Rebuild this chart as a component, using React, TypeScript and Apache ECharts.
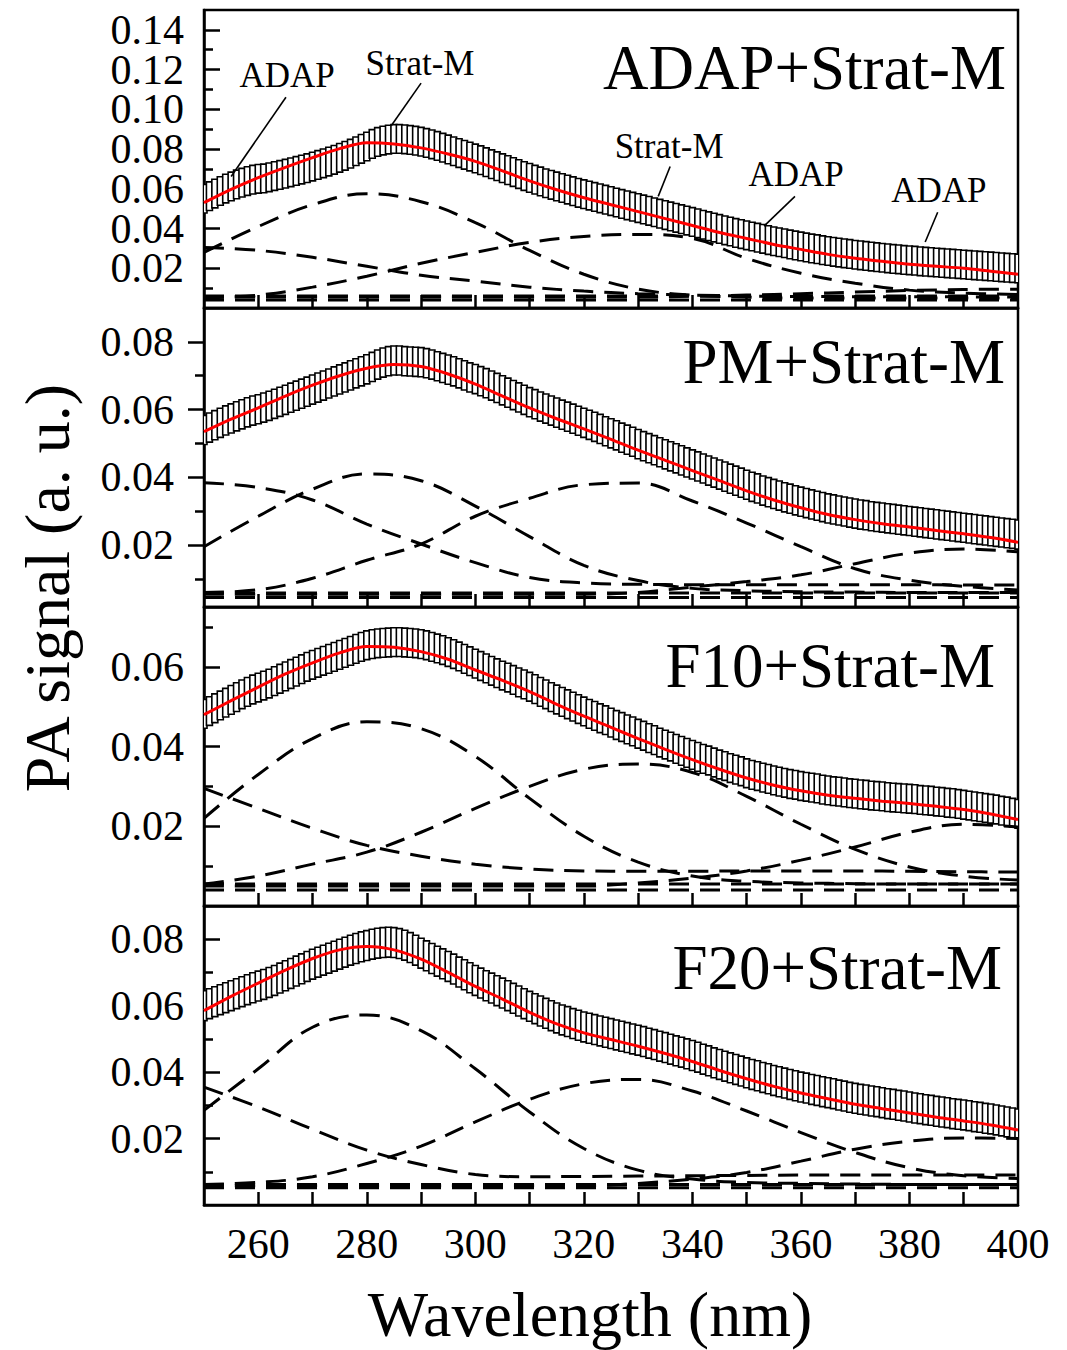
import React, { useEffect, useRef } from 'react';
import * as echarts from 'echarts';

const FONT = "'Liberation Serif', 'Times New Roman', serif";

// x sampling (nm)
const dataStart = 250;
const dataStep = 1;
const fitStep = 5;
const compStep = 10;
const xMin = 250;
const xMax = 400;
const xTickValues = [260, 270, 280, 290, 300, 310, 320, 330, 340, 350, 360, 370, 380, 390];
const xLabelValues = [260, 280, 300, 320, 340, 360, 380, 400];

const panelTitles = ['ADAP+Strat-M', 'PM+Strat-M', 'F10+Strat-M', 'F20+Strat-M'];
const yMin = [0, 0.0017, 0, 0];
const yMax = [0.15, 0.09, 0.075, 0.09];
const yMajor = [
  [0.02, 0.04, 0.06, 0.08, 0.1, 0.12, 0.14],
  [0.02, 0.04, 0.06, 0.08],
  [0.02, 0.04, 0.06],
  [0.02, 0.04, 0.06, 0.08],
];
const yMinor = [
  [0.01, 0.03, 0.05, 0.07, 0.09, 0.11, 0.13],
  [0.01, 0.03, 0.05, 0.07],
  [0.01, 0.03, 0.05, 0.07],
  [0.01, 0.03, 0.05, 0.07],
];
const errHalf = [0.0072, 0.0043, 0.0036, 0.0045];

// measured data (box centres), 250..400 nm every 1 nm
const adapData = [
  0.0550, 0.0563, 0.0576, 0.0589, 0.0601, 0.0612, 0.0622, 0.0631, 0.0639, 0.0646,
  0.0650, 0.0652, 0.0658, 0.0664, 0.0670, 0.0676, 0.0683, 0.0690, 0.0697, 0.0704,
  0.0712, 0.0720, 0.0728, 0.0737, 0.0746, 0.0756, 0.0766, 0.0777, 0.0789, 0.0801,
  0.0813, 0.0826, 0.0836, 0.0843, 0.0848, 0.0851, 0.0851, 0.0849, 0.0846, 0.0842,
  0.0837, 0.0831, 0.0824, 0.0816, 0.0807, 0.0798, 0.0789, 0.0780, 0.0771, 0.0762,
  0.0753, 0.0744, 0.0734, 0.0724, 0.0714, 0.0704, 0.0694, 0.0684, 0.0674, 0.0664,
  0.0655, 0.0646, 0.0637, 0.0628, 0.0620, 0.0612, 0.0604, 0.0596, 0.0588, 0.0580,
  0.0573, 0.0566, 0.0559, 0.0552, 0.0545, 0.0538, 0.0531, 0.0524, 0.0517, 0.0510,
  0.0503, 0.0496, 0.0489, 0.0482, 0.0475, 0.0468, 0.0461, 0.0454, 0.0447, 0.0440,
  0.0433, 0.0426, 0.0419, 0.0412, 0.0405, 0.0398, 0.0391, 0.0385, 0.0378, 0.0372,
  0.0366, 0.0360, 0.0354, 0.0348, 0.0342, 0.0336, 0.0331, 0.0326, 0.0320, 0.0315,
  0.0310, 0.0305, 0.0300, 0.0296, 0.0291, 0.0287, 0.0283, 0.0279, 0.0275, 0.0272,
  0.0268, 0.0265, 0.0262, 0.0259, 0.0256, 0.0253, 0.0250, 0.0247, 0.0245, 0.0242,
  0.0240, 0.0238, 0.0235, 0.0233, 0.0231, 0.0229, 0.0227, 0.0225, 0.0223, 0.0221,
  0.0219, 0.0217, 0.0215, 0.0213, 0.0211, 0.0209, 0.0207, 0.0205, 0.0203, 0.0201,
  0.0199,
];
const pmData = [
  0.0540, 0.0547, 0.0554, 0.0561, 0.0568, 0.0574, 0.0580, 0.0586, 0.0592, 0.0597,
  0.0601, 0.0606, 0.0611, 0.0617, 0.0623, 0.0629, 0.0635, 0.0641, 0.0647, 0.0653,
  0.0659, 0.0665, 0.0671, 0.0677, 0.0683, 0.0689, 0.0695, 0.0701, 0.0707, 0.0713,
  0.0719, 0.0726, 0.0733, 0.0739, 0.0743, 0.0745, 0.0745, 0.0743, 0.0742, 0.0741,
  0.0740, 0.0737, 0.0733, 0.0728, 0.0723, 0.0718, 0.0713, 0.0707, 0.0701, 0.0695,
  0.0690, 0.0684, 0.0678, 0.0671, 0.0664, 0.0657, 0.0650, 0.0643, 0.0636, 0.0629,
  0.0622, 0.0616, 0.0609, 0.0603, 0.0597, 0.0591, 0.0585, 0.0579, 0.0573, 0.0567,
  0.0561, 0.0555, 0.0549, 0.0543, 0.0536, 0.0530, 0.0524, 0.0517, 0.0511, 0.0505,
  0.0498, 0.0492, 0.0486, 0.0480, 0.0474, 0.0468, 0.0462, 0.0456, 0.0450, 0.0444,
  0.0438, 0.0432, 0.0426, 0.0420, 0.0414, 0.0408, 0.0402, 0.0396, 0.0390, 0.0384,
  0.0378, 0.0372, 0.0367, 0.0361, 0.0356, 0.0351, 0.0346, 0.0341, 0.0337, 0.0332,
  0.0328, 0.0324, 0.0320, 0.0316, 0.0312, 0.0308, 0.0305, 0.0302, 0.0299, 0.0296,
  0.0293, 0.0290, 0.0288, 0.0285, 0.0283, 0.0281, 0.0279, 0.0277, 0.0275, 0.0273,
  0.0271, 0.0269, 0.0267, 0.0265, 0.0263, 0.0261, 0.0259, 0.0257, 0.0255, 0.0253,
  0.0251, 0.0249, 0.0247, 0.0245, 0.0243, 0.0241, 0.0239, 0.0237, 0.0235, 0.0233,
  0.0231,
];
const f10Data = [
  0.0482, 0.0489, 0.0496, 0.0503, 0.0510, 0.0517, 0.0524, 0.0531, 0.0537, 0.0543,
  0.0548, 0.0553, 0.0558, 0.0564, 0.0570, 0.0576, 0.0582, 0.0588, 0.0594, 0.0600,
  0.0605, 0.0610, 0.0615, 0.0620, 0.0625, 0.0630, 0.0635, 0.0640, 0.0645, 0.0650,
  0.0654, 0.0657, 0.0659, 0.0660, 0.0661, 0.0662, 0.0662, 0.0661, 0.0660, 0.0659,
  0.0657, 0.0654, 0.0650, 0.0646, 0.0642, 0.0637, 0.0632, 0.0626, 0.0620, 0.0614,
  0.0608, 0.0602, 0.0596, 0.0590, 0.0584, 0.0578, 0.0573, 0.0567, 0.0561, 0.0556,
  0.0550, 0.0544, 0.0537, 0.0531, 0.0524, 0.0518, 0.0512, 0.0506, 0.0500, 0.0494,
  0.0488, 0.0482, 0.0477, 0.0471, 0.0466, 0.0460, 0.0454, 0.0449, 0.0443, 0.0438,
  0.0432, 0.0427, 0.0421, 0.0416, 0.0410, 0.0405, 0.0400, 0.0394, 0.0389, 0.0384,
  0.0379, 0.0374, 0.0369, 0.0365, 0.0360, 0.0355, 0.0351, 0.0346, 0.0342, 0.0338,
  0.0333, 0.0329, 0.0326, 0.0322, 0.0319, 0.0315, 0.0312, 0.0309, 0.0306, 0.0304,
  0.0301, 0.0299, 0.0297, 0.0295, 0.0292, 0.0290, 0.0288, 0.0287, 0.0285, 0.0283,
  0.0282, 0.0280, 0.0279, 0.0277, 0.0276, 0.0275, 0.0273, 0.0272, 0.0271, 0.0270,
  0.0269, 0.0268, 0.0266, 0.0265, 0.0264, 0.0262, 0.0261, 0.0259, 0.0258, 0.0256,
  0.0254, 0.0252, 0.0250, 0.0248, 0.0246, 0.0244, 0.0242, 0.0239, 0.0237, 0.0234,
  0.0231,
];
const f20Data = [
  0.0600, 0.0606, 0.0612, 0.0618, 0.0624, 0.0630, 0.0636, 0.0642, 0.0648, 0.0654,
  0.0659, 0.0664, 0.0670, 0.0676, 0.0683, 0.0690, 0.0697, 0.0704, 0.0711, 0.0718,
  0.0725, 0.0731, 0.0737, 0.0743, 0.0749, 0.0755, 0.0761, 0.0767, 0.0772, 0.0777,
  0.0781, 0.0785, 0.0788, 0.0790, 0.0791, 0.0790, 0.0787, 0.0782, 0.0775, 0.0767,
  0.0758, 0.0750, 0.0742, 0.0734, 0.0726, 0.0718, 0.0710, 0.0701, 0.0693, 0.0684,
  0.0676, 0.0668, 0.0660, 0.0653, 0.0645, 0.0638, 0.0630, 0.0622, 0.0614, 0.0606,
  0.0598, 0.0591, 0.0584, 0.0577, 0.0570, 0.0563, 0.0557, 0.0552, 0.0546, 0.0541,
  0.0536, 0.0532, 0.0528, 0.0524, 0.0520, 0.0516, 0.0512, 0.0508, 0.0504, 0.0500,
  0.0496, 0.0492, 0.0487, 0.0483, 0.0478, 0.0474, 0.0469, 0.0464, 0.0460, 0.0455,
  0.0450, 0.0445, 0.0439, 0.0434, 0.0428, 0.0423, 0.0418, 0.0413, 0.0408, 0.0403,
  0.0398, 0.0393, 0.0389, 0.0384, 0.0380, 0.0375, 0.0371, 0.0367, 0.0363, 0.0359,
  0.0355, 0.0352, 0.0348, 0.0345, 0.0341, 0.0338, 0.0335, 0.0331, 0.0328, 0.0324,
  0.0321, 0.0318, 0.0316, 0.0313, 0.0311, 0.0308, 0.0305, 0.0303, 0.0300, 0.0298,
  0.0295, 0.0292, 0.0290, 0.0287, 0.0285, 0.0282, 0.0280, 0.0278, 0.0275, 0.0273,
  0.0271, 0.0269, 0.0266, 0.0264, 0.0261, 0.0259, 0.0256, 0.0253, 0.0250, 0.0247,
  0.0244,
];

// fitted curves (red), 250..400 every 5 nm
const adapFit = [0.053, 0.0597, 0.0656, 0.0708, 0.0757, 0.0802, 0.0832, 0.0826, 0.0806, 0.0775, 0.0738, 0.069, 0.064, 0.0595, 0.0555, 0.052, 0.0485, 0.045, 0.0415, 0.038, 0.035, 0.032, 0.0295, 0.027, 0.025, 0.0235, 0.022, 0.021, 0.020, 0.0185, 0.017];
const pmFit = [0.0535, 0.0572, 0.0605, 0.064, 0.0672, 0.070, 0.0722, 0.0733, 0.0727, 0.0705, 0.0675, 0.064, 0.0605, 0.0573, 0.0543, 0.0512, 0.048, 0.045, 0.042, 0.039, 0.036, 0.0333, 0.031, 0.029, 0.0275, 0.0263, 0.0253, 0.0243, 0.0233, 0.0222, 0.0208];
const f10Fit = [0.048, 0.0515, 0.0549, 0.0582, 0.061, 0.0635, 0.0651, 0.0649, 0.0638, 0.0619, 0.0592, 0.0566, 0.0538, 0.0506, 0.0476, 0.0448, 0.042, 0.0393, 0.0367, 0.0343, 0.0321, 0.0303, 0.0289, 0.0278, 0.027, 0.0263, 0.0257, 0.025, 0.0242, 0.0231, 0.0217];
const f20Fit = [0.0585, 0.0628, 0.0668, 0.0707, 0.0742, 0.0768, 0.0778, 0.0768, 0.074, 0.070, 0.0658, 0.062, 0.058, 0.0545, 0.0518, 0.0498, 0.0478, 0.0456, 0.0432, 0.0405, 0.038, 0.0357, 0.0337, 0.032, 0.0303, 0.029, 0.0277, 0.0264, 0.0253, 0.0241, 0.0226];

// fitted components (dashed), 250..400 every 10 nm
const adapComp1 = [0.028, 0.041, 0.052, 0.0575, 0.0535, 0.043, 0.029, 0.017, 0.0095, 0.0065, 0.0055, 0.005, 0.005, 0.005, 0.005, 0.005];
const adapComp2 = [0.0305, 0.029, 0.0255, 0.021, 0.0165, 0.0135, 0.0105, 0.0085, 0.0072, 0.0065, 0.006, 0.0058, 0.0057, 0.0056, 0.0056, 0.0055];
const adapComp3 = [0.005, 0.0065, 0.0105, 0.016, 0.0225, 0.028, 0.033, 0.036, 0.037, 0.035, 0.025, 0.0175, 0.0125, 0.009, 0.0075, 0.0068];
const adapComp4 = [0.0055, 0.0055, 0.0055, 0.0055, 0.0055, 0.0055, 0.0055, 0.0055, 0.0055, 0.006, 0.0065, 0.0072, 0.008, 0.0088, 0.0093, 0.0095];
const adapBaselines = [0.004, 0.006];

const pmComp1 = [0.0195, 0.0285, 0.0365, 0.041, 0.039, 0.0315, 0.0225, 0.014, 0.0095, 0.0072, 0.0065, 0.0062, 0.0061, 0.006, 0.006, 0.006];
const pmComp2 = [0.0384, 0.037, 0.0333, 0.0262, 0.0203, 0.0148, 0.0104, 0.0088, 0.0084, 0.0083, 0.0083, 0.0083, 0.0083, 0.0083, 0.0082, 0.0082];
const pmComp3 = [0.006, 0.0068, 0.0102, 0.0155, 0.0203, 0.0285, 0.0338, 0.0378, 0.0383, 0.033, 0.0265, 0.0195, 0.013, 0.0096, 0.0078, 0.0067];
const pmComp4 = [0.0055, 0.0055, 0.0055, 0.0055, 0.0055, 0.0055, 0.0055, 0.0055, 0.006, 0.0076, 0.0092, 0.0112, 0.0145, 0.0176, 0.0188, 0.018];
const pmBaselines = [0.0045, 0.0058];

const f10Comp1 = [0.022, 0.033, 0.042, 0.0462, 0.0445, 0.0375, 0.027, 0.0175, 0.011, 0.0075, 0.0062, 0.0058, 0.0056, 0.0055, 0.0055, 0.0055];
const f10Comp2 = [0.0295, 0.0245, 0.0195, 0.0152, 0.0125, 0.0105, 0.0093, 0.0088, 0.0087, 0.0087, 0.0088, 0.0088, 0.0088, 0.0087, 0.0086, 0.0085];
const f10Comp3 = [0.0055, 0.0075, 0.0105, 0.0135, 0.0185, 0.0245, 0.03, 0.0343, 0.0356, 0.0335, 0.0275, 0.0205, 0.0142, 0.0098, 0.0075, 0.0065];
const f10Comp4 = [0.005, 0.005, 0.005, 0.005, 0.005, 0.005, 0.005, 0.005, 0.0058, 0.007, 0.0088, 0.0115, 0.0148, 0.0185, 0.0205, 0.0198];
const f10Baselines = [0.004, 0.0055];

const f20Comp1 = [0.0285, 0.041, 0.0535, 0.0572, 0.0525, 0.041, 0.028, 0.017, 0.0105, 0.0078, 0.0068, 0.0065, 0.0063, 0.0062, 0.0062, 0.0062];
const f20Comp2 = [0.0355, 0.0295, 0.0228, 0.0165, 0.0122, 0.0092, 0.0085, 0.0086, 0.0087, 0.0088, 0.0089, 0.009, 0.009, 0.009, 0.009, 0.009];
const f20Comp3 = [0.0062, 0.0068, 0.0085, 0.0125, 0.0177, 0.025, 0.0318, 0.0365, 0.0378, 0.0343, 0.0283, 0.0218, 0.0158, 0.0112, 0.0088, 0.008];
const f20Comp4 = [0.0058, 0.0058, 0.0058, 0.0058, 0.0058, 0.0058, 0.0058, 0.0058, 0.0065, 0.0078, 0.0098, 0.0132, 0.0168, 0.0192, 0.0202, 0.02];
const f20Baselines = [0.0052, 0.0062];

const panelData = [adapData, pmData, f10Data, f20Data];
const panelFit = [adapFit, pmFit, f10Fit, f20Fit];
const panelComps = [
  [adapComp1, adapComp2, adapComp3, adapComp4],
  [pmComp1, pmComp2, pmComp3, pmComp4],
  [f10Comp1, f10Comp2, f10Comp3, f10Comp4],
  [f20Comp1, f20Comp2, f20Comp3, f20Comp4],
];
const panelBaselines = [adapBaselines, pmBaselines, f10Baselines, f20Baselines];

// annotations in the top panel (data coordinates)
const annoLabels = ['ADAP', 'Strat-M', 'Strat-M', 'ADAP', 'ADAP'];
const annoAt = [[265.3, 0.117], [289.8, 0.1232], [335.7, 0.0812], [359.1, 0.0672], [385.4, 0.0592]];
const annoFrom = [[265.1, 0.1061], [290, 0.1132], [335.9, 0.0712], [358.9, 0.0562], [385.2, 0.0482]];
const annoTo = [[255, 0.0662], [284.5, 0.0917], [333.7, 0.0562], [353.2, 0.0412], [382.9, 0.0332]];

// layout
const W = 1067;
const H = 1350;
const gridLeft = 204;
const gridWidth = 814;
const panelTop = [10, 308, 607, 906];
const panelHeight = [298, 299, 299, 299];
const tickInside = [true, false, true, true];
const titlePos = [[1006, 68], [1005, 362], [995, 666], [1002, 968]];

export default function App() {
  const ref = useRef<HTMLDivElement>(null);
  useEffect(() => {
    if (!ref.current) return;
    const chart = echarts.init(ref.current, null, { renderer: 'svg' });
    const axisLineStyle = { color: '#000', width: 2.5 };
    const dashStyle = { color: '#000', width: 3, type: [20, 11] };

    const grids: any[] = [];
    const xAxes: any[] = [];
    const yAxes: any[] = [];
    const series: any[] = [];

    for (let i = 0; i < 4; i++) {
      grids.push({
        left: gridLeft, width: gridWidth, top: panelTop[i], height: panelHeight[i],
        show: true, borderColor: '#000', borderWidth: 2.5, backgroundColor: 'transparent',
      });
      xAxes.push({
        type: 'value', gridIndex: i, min: xMin, max: xMax,
        axisLine: { show: true, lineStyle: axisLineStyle },
        axisTick: { show: true, inside: true, length: 13, customValues: xTickValues, lineStyle: axisLineStyle },
        axisLabel: {
          show: i === 3, customValues: xLabelValues, fontSize: 42, fontFamily: FONT, color: '#000', margin: 18,
          showMinLabel: true, showMaxLabel: true, hideOverlap: false,
          formatter: (v: number) => String(Math.round(v)),
        },
        splitLine: { show: false },
      });
      const labelsA = yMajor[i].filter((_, k) => k % 2 === 0);
      const labelsB = yMajor[i].filter((_, k) => k % 2 === 1);
      const labelBase = {
        show: true, fontSize: 42, lineHeight: 34, fontFamily: FONT, color: '#000',
        margin: tickInside[i] ? 20 : 30, showMinLabel: true, showMaxLabel: true, hideOverlap: false,
        formatter: (v: number) => v.toFixed(2),
      };
      // main axis: line, major ticks, every other label
      yAxes.push({
        type: 'value', gridIndex: i, min: yMin[i], max: yMax[i], position: 'left',
        axisLine: { show: true, lineStyle: axisLineStyle },
        axisTick: { show: true, inside: tickInside[i], length: 16, customValues: yMajor[i], lineStyle: axisLineStyle },
        axisLabel: { ...labelBase, customValues: labelsA },
        splitLine: { show: false },
      });
      // minor ticks
      yAxes.push({
        type: 'value', gridIndex: i, min: yMin[i], max: yMax[i], position: 'left',
        axisLine: { show: false },
        axisTick: { show: true, inside: tickInside[i], length: 9, customValues: yMinor[i], lineStyle: axisLineStyle },
        axisLabel: { show: false },
        splitLine: { show: false },
      });
      // remaining labels
      yAxes.push({
        type: 'value', gridIndex: i, min: yMin[i], max: yMax[i], position: 'left',
        axisLine: { show: false },
        axisTick: { show: false },
        axisLabel: { ...labelBase, show: labelsB.length > 0, customValues: labelsB.length ? labelsB : [yMajor[i][0]] },
        splitLine: { show: false },
      });

      const yIdx = 3 * i;
      const eh = errHalf[i];
      series.push({
        type: 'custom', xAxisIndex: i, yAxisIndex: yIdx, clip: true, silent: true, z: 2,
        encode: { x: 0, y: 1 },
        data: panelData[i].map((v, k) => [dataStart + k * dataStep, v, eh]),
        renderItem: (params: any, api: any) => {
          const x = api.value(0);
          const y = api.value(1);
          const e = api.value(2);
          const top = api.coord([x, y + e]);
          const bot = api.coord([x, y - e]);
          const w = 6;
          return {
            type: 'rect',
            shape: { x: top[0] - w / 2, y: top[1], width: w, height: bot[1] - top[1] },
            style: { fill: '#fff', stroke: '#000', lineWidth: 1.6 },
          };
        },
      });

      panelComps[i].forEach((comp) => {
        series.push({
          type: 'line', xAxisIndex: i, yAxisIndex: yIdx, silent: true, z: 3,
          data: comp.map((v, k) => [xMin + k * compStep, v]),
          smooth: 0.4, showSymbol: false, symbol: 'none',
          lineStyle: dashStyle,
        });
      });
      panelBaselines[i].forEach((b) => {
        series.push({
          type: 'line', xAxisIndex: i, yAxisIndex: yIdx, silent: true, z: 3,
          data: [[xMin, b], [xMax, b]],
          showSymbol: false, symbol: 'none',
          lineStyle: dashStyle,
        });
      });

      series.push({
        type: 'line', xAxisIndex: i, yAxisIndex: yIdx, silent: true, z: 5,
        data: panelFit[i].map((v, k) => [xMin + k * fitStep, v]),
        smooth: 0.3, showSymbol: false, symbol: 'none',
        lineStyle: { color: '#ff0000', width: 3 },
      });
    }

    chart.setOption({
      animation: false,
      backgroundColor: '#fff',
      grid: grids,
      xAxis: xAxes,
      yAxis: yAxes,
      series,
    });

    const graphics: any[] = [];
    panelTitles.forEach((t, i) => {
      graphics.push({
        type: 'text', x: titlePos[i][0], y: titlePos[i][1], z: 10,
        style: { text: t, fontSize: 63, fontFamily: FONT, fill: '#000', align: 'right', verticalAlign: 'middle' },
      });
    });
    graphics.push({
      type: 'text', x: 47, y: 588, rotation: Math.PI / 2, z: 10,
      style: { text: 'PA signal (a. u.)', fontSize: 64, fontFamily: FONT, fill: '#000', align: 'center', verticalAlign: 'middle' },
    });
    graphics.push({
      type: 'text', x: 590, y: 1314, z: 10,
      style: { text: 'Wavelength (nm)', fontSize: 64, lineHeight: 64, fontFamily: FONT, fill: '#000', align: 'center', verticalAlign: 'middle' },
    });
    annoLabels.forEach((lab, k) => {
      const p = chart.convertToPixel({ xAxisIndex: 0, yAxisIndex: 0 } as any, annoAt[k]) as number[];
      const a = chart.convertToPixel({ xAxisIndex: 0, yAxisIndex: 0 } as any, annoFrom[k]) as number[];
      const b = chart.convertToPixel({ xAxisIndex: 0, yAxisIndex: 0 } as any, annoTo[k]) as number[];
      graphics.push({
        type: 'text', x: p[0], y: p[1], z: 10,
        style: { text: lab, fontSize: 35, fontFamily: FONT, fill: '#000', align: 'center', verticalAlign: 'middle' },
      });
      graphics.push({
        type: 'line', z: 10,
        shape: { x1: a[0], y1: a[1], x2: b[0], y2: b[1] },
        style: { stroke: '#000', lineWidth: 1.6 },
      });
    });
    chart.setOption({ graphic: graphics });

    return () => chart.dispose();
  }, []);

  return (
    <div
      ref={ref}
      style={{ position: 'absolute', left: 0, top: 0, width: W, height: H, background: '#fff' }}
    />
  );
}
